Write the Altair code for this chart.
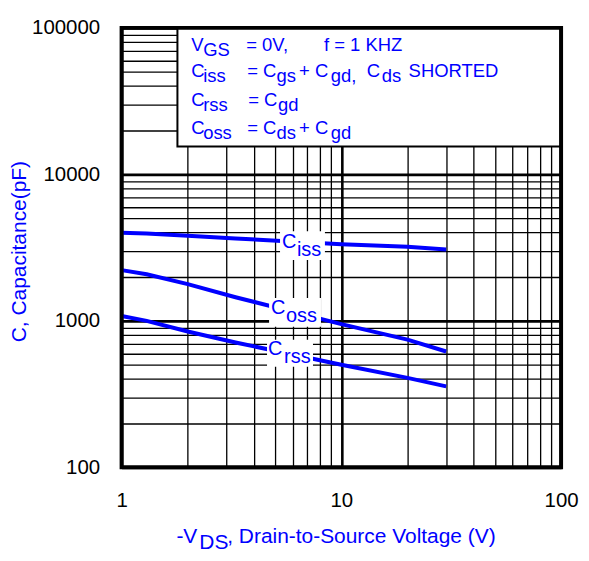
import altair as alt
import pandas as pd

# ---- data ----
vds = [1, 1.3, 2, 3.3, 10, 20, 30]
ciss = [3990, 3950, 3805, 3650, 3340, 3200, 3075]
coss = [2220, 2080, 1780, 1450, 950, 745, 618]
crss = [1080, 1000, 846, 712, 502, 408, 357]

x_ticks = [1, 2, 3, 4, 5, 6, 7, 8, 9, 10, 20, 30, 40, 50, 60, 70, 80, 90, 100]
y_ticks = [100, 200, 300, 400, 500, 600, 700, 800, 900,
           1000, 2000, 3000, 4000, 5000, 6000, 7000, 8000, 9000,
           10000, 20000, 30000, 40000, 50000, 60000, 70000, 80000, 90000, 100000]
x_labels = [1, 10, 100]
y_labels = [100, 1000, 10000, 100000]

# legend box text (main text and subscripts)
leg_text = ["V", "GS", "= 0V,", "f = 1 KHZ",
            "C", "iss", "= C", "gs", "+ C", "gd,", "C", "ds", "SHORTED",
            "C", "rss", "= C", "gd",
            "C", "oss", "= C", "ds", "+ C", "gd"]
leg_v = [2.077, 2.35, 3.69, 8.33,
         2.077, 2.35, 3.73, 5.07, 6.42, 8.96, 13.05, 15.27, 20.24,
         2.077, 2.35, 3.77, 5.15,
         2.077, 2.35, 3.73, 5.07, 6.42, 8.96]
leg_c = [76630, 70860, 76630, 76630,
         50600, 46790, 50600, 46790, 50600, 46790, 50600, 46790, 50600,
         32370, 29940, 32370, 29940,
         20720, 19160, 20720, 19160, 20720, 19160]

# curve labels
lab_text = ["C", "iss", "C", "oss", "C", "rss"]
lab_v = [5.37, 6.28, 4.79, 5.60, 4.64, 5.49]
lab_c = [3446, 3040, 1216, 1073, 640, 565]
bg_v1 = [5.26, 4.69, 4.59]
bg_v2 = [8.42, 8.08, 7.43]
bg_c1 = [2600, 910, 486]
bg_c2 = [4093, 1434, 743]

box_v = [1.795, 100]
box_c = [15500, 100000]

xtitle_text = ["-V", "DS", ", Drain-to-Source Voltage (V)"]
ytitle = "C, Capacitance(pF)"

BLUE = "#0000ff"
FONT = "Liberation Sans"

curves = pd.DataFrame({
    "v": vds * 3,
    "c": ciss + coss + crss,
    "s": ["Ciss"] * len(vds) + ["Coss"] * len(vds) + ["Crss"] * len(vds),
})
legend_df = pd.DataFrame({"t": leg_text, "v": leg_v, "c": leg_c})
labels_df = pd.DataFrame({"t": lab_text, "v": lab_v, "c": lab_c})
bg_df = pd.DataFrame({"v": bg_v1, "v2": bg_v2, "c": bg_c1, "c2": bg_c2})
box_df = pd.DataFrame({"v": [box_v[0]], "v2": [box_v[1]], "c": [box_c[0]], "c2": [box_c[1]]})
frame_df = pd.DataFrame({"v": [x_ticks[0]], "v2": [x_ticks[-1]], "c": [y_ticks[0]], "c2": [y_ticks[-1]]})

xs = alt.Scale(type="log", domain=[1, 100], nice=False)
ys = alt.Scale(type="log", domain=[100, 100000], nice=False)

x_major = "indexof(" + str(x_labels) + ", datum.value) >= 0"
y_major = "indexof(" + str(y_labels) + ", datum.value) >= 0"

x_axis = alt.Axis(
    values=x_ticks, title=None, domain=False, ticks=False, tickSize=0,
    labelExpr=x_major + " ? format(datum.value, 'd') : ''",
    labelFont=FONT, labelFontSize=20.5, labelColor="black", labelPadding=23,
    labelFlush=False, labelOverlap=False,
    gridColor="black", gridOpacity=1,
    gridWidth={"condition": {"test": x_major, "value": 2.6}, "value": 1.3},
)
y_axis = alt.Axis(
    values=y_ticks, title=ytitle, domain=False, ticks=False, tickSize=0,
    labelExpr=y_major + " ? format(datum.value, 'd') : ''",
    labelFont=FONT, labelFontSize=20.5, labelColor="black", labelPadding=22,
    labelOverlap=False,
    gridColor="black", gridOpacity=1,
    gridWidth={"condition": {"test": y_major, "value": 2.6}, "value": 1.3},
    titleFont=FONT, titleFontSize=21, titleFontWeight="normal", titleColor=BLUE,
    titleAngle=270, titleAlign="center", titleBaseline="middle",
    titleX=-102, titleY=224,
)


def X():
    return alt.X("v:Q", scale=xs, axis=x_axis)


def Y():
    return alt.Y("c:Q", scale=ys, axis=y_axis)


lines = alt.Chart(curves).mark_line(color=BLUE, strokeWidth=4).encode(
    x=X(), y=Y(), detail="s:N",
)

box = alt.Chart(box_df).mark_rect(fill="white", stroke="black", strokeWidth=2).encode(
    x=X(), x2="v2:Q", y=Y(), y2="c2:Q",
)

legend_text = alt.Chart(legend_df).mark_text(
    align="left", baseline="middle", font=FONT, fontSize=18.5, color=BLUE
).encode(x=X(), y=Y(), text="t:N")

label_bg = alt.Chart(bg_df).mark_rect(fill="white").encode(
    x=X(), x2="v2:Q", y=Y(), y2="c2:Q",
)

label_text = alt.Chart(labels_df).mark_text(
    align="left", baseline="middle", font=FONT, fontSize=20, color=BLUE
).encode(x=X(), y=Y(), text="t:N")

frame = alt.Chart(frame_df).mark_rect(fillOpacity=0, stroke="black", strokeWidth=4).encode(
    x=X(), x2="v2:Q", y=Y(), y2="c2:Q",
)

xt_pos = [(55, 511), (78, 517), (106, 511)]
xtitle_layers = []
for txt, (px, py) in zip(xtitle_text, xt_pos):
    xtitle_layers.append(
        alt.Chart(pd.DataFrame({"t": [txt]})).mark_text(
            align="left", baseline="middle", font=FONT, fontSize=21, color=BLUE
        ).encode(x=alt.value(px), y=alt.value(py), text="t:N")
    )

chart = alt.layer(box, lines, label_bg, label_text, legend_text, frame, *xtitle_layers).properties(
    width=441, height=441,
    autosize=alt.AutoSizeParams(type="none"),
    padding={"left": 114, "top": 19, "right": 20, "bottom": 85},
).configure_view(strokeOpacity=0)

chart.save("out.html", embed_options={"renderer": "svg", "actions": False})
